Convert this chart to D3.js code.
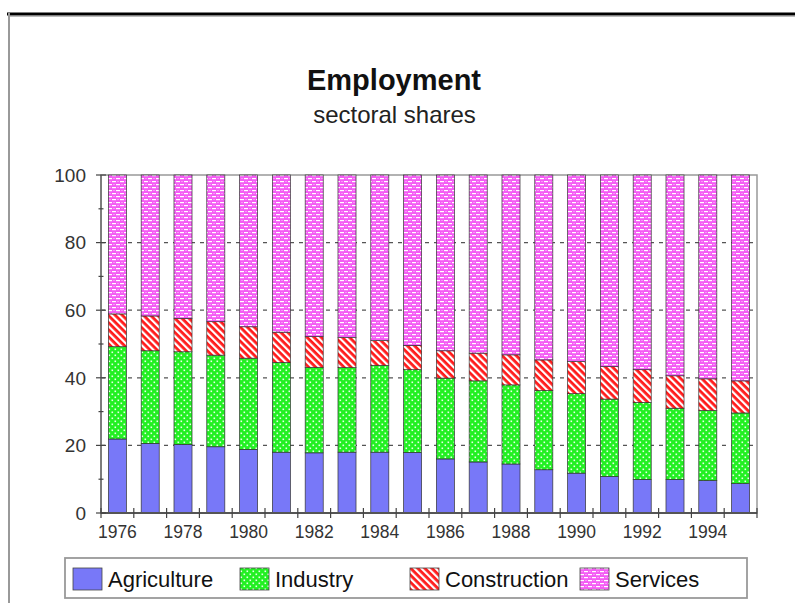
<!DOCTYPE html>
<html><head><meta charset="utf-8">
<script src="https://cdn.jsdelivr.net/npm/d3@7"></script>
<style>body{margin:0;background:#fff;}svg{display:block;font-family:"Liberation Sans",Arial,sans-serif;}</style>
</head><body>
<svg id="c" width="795" height="603"></svg>
<script>
const years = [1976,1977,1978,1979,1980,1981,1982,1983,1984,1985,1986,1987,1988,1989,1990,1991,1992,1993,1994,1995];
const agriculture  = [21.9,20.6,20.3,19.6,18.8,18.0,17.8,18.0,18.0,17.9,16.0,15.1,14.5,12.8,11.8,10.8,9.9,9.9,9.6,8.7];
const industry     = [27.3,27.4,27.4,27.1,27.0,26.5,25.3,25.0,25.7,24.5,23.9,24.0,23.4,23.4,23.5,22.9,22.8,21.1,20.7,20.9];
const construction = [9.7,10.3,9.9,9.9,9.3,9.0,9.1,8.9,7.3,7.2,8.1,8.2,8.9,9.1,9.5,9.6,9.7,9.6,9.4,9.5];
const services     = [41.1,41.7,42.4,43.4,44.9,46.5,47.8,48.1,49.0,50.4,52.0,52.7,53.2,54.7,55.2,56.7,57.6,59.4,60.3,60.9];
const seriesNames = ["Agriculture","Industry","Construction","Services"];
const yTicks = [0,20,40,60,80,100];
const xTickLabels = [1976,1978,1980,1982,1984,1986,1988,1990,1992,1994];

const svg = d3.select("#c");
const defs = svg.append("defs");

// patterns
const pInd = defs.append("pattern").attr("id","pInd").attr("patternUnits","userSpaceOnUse").attr("width",6).attr("height",6);
pInd.append("rect").attr("width",6).attr("height",6).attr("fill","#22f022");
pInd.append("rect").attr("x",0.5).attr("y",0.5).attr("width",1.6).attr("height",1.6).attr("fill","#e8ffe8");
pInd.append("rect").attr("x",3.5).attr("y",3.5).attr("width",1.6).attr("height",1.6).attr("fill","#e8ffe8");

const pCon = defs.append("pattern").attr("id","pCon").attr("patternUnits","userSpaceOnUse").attr("width",5).attr("height",5).attr("patternTransform","rotate(-45)");
pCon.append("rect").attr("width",5).attr("height",5).attr("fill","#ff1a1a");
pCon.append("rect").attr("x",0).attr("width",2.2).attr("height",5).attr("fill","#ffffff");

const pSer = defs.append("pattern").attr("id","pSer").attr("patternUnits","userSpaceOnUse").attr("width",8).attr("height",6);
pSer.append("rect").attr("width",8).attr("height",6).attr("fill","#f45cf4");
pSer.append("rect").attr("x",0).attr("y",1).attr("width",4).attr("height",1.2).attr("fill","#ffffff");
pSer.append("rect").attr("x",4).attr("y",4).attr("width",4).attr("height",1.2).attr("fill","#ffffff");
pSer.append("rect").attr("x",5.5).attr("y",1).attr("width",1).attr("height",1).attr("fill","#ffd0ff");
pSer.append("rect").attr("x",1.5).attr("y",4).attr("width",1).attr("height",1).attr("fill","#ffd0ff");

const fills = ["#7878f8","url(#pInd)","url(#pCon)","url(#pSer)"];

// outer frame
svg.append("line").attr("x1",7).attr("x2",795).attr("y1",14).attr("y2",14).attr("stroke","#000").attr("stroke-width",3);
svg.append("line").attr("x1",9).attr("x2",795).attr("y1",16.5).attr("y2",16.5).attr("stroke","#bbb").attr("stroke-width",1);
svg.append("line").attr("x1",9).attr("x2",9).attr("y1",13).attr("y2",603).attr("stroke","#999").attr("stroke-width",2);

// title
svg.append("text").attr("x",394).attr("y",90).attr("text-anchor","middle").attr("font-size",29).attr("font-weight","bold").attr("fill","#111").text("Employment");
svg.append("text").attr("x",394.5).attr("y",123).attr("text-anchor","middle").attr("font-size",24).attr("fill","#222").text("sectoral shares");

const L = 101, R = 757, T = 175, B = 513;
const x = d3.scaleBand().domain(years).range([L,R]).paddingInner(0.45).paddingOuter(0.225);
const y = d3.scaleLinear().domain([0,100]).range([B,T]);

// grid
svg.append("g").selectAll("line").data([20,40,60,80]).join("line")
  .attr("x1",L).attr("x2",R).attr("y1",d=>y(d)).attr("y2",d=>y(d))
  .attr("stroke","#555").attr("stroke-width",1.2).attr("stroke-dasharray","4,5");

// frame
svg.append("rect").attr("x",L).attr("y",T).attr("width",R-L).attr("height",B-T).attr("fill","none").attr("stroke","#999").attr("stroke-width",1.5);

// stack
const table = years.map((yr,i)=>({year:yr, Agriculture:agriculture[i], Industry:industry[i], Construction:construction[i], Services:services[i]}));
const stacked = d3.stack().keys(seriesNames)(table);
svg.append("g").selectAll("g").data(stacked).join("g")
  .attr("fill",(d,i)=>fills[i])
  .selectAll("rect").data(d=>d).join("rect")
  .attr("x",d=>x(d.data.year)).attr("width",x.bandwidth())
  .attr("y",d=>y(Math.min(d[1],100))).attr("height",d=>y(d[0])-y(Math.min(d[1],100)))
  .attr("stroke","#333").attr("stroke-width",0.7);

// axes lines
svg.append("line").attr("x1",L).attr("x2",L).attr("y1",T).attr("y2",B).attr("stroke","#777").attr("stroke-width",1.8);
svg.append("line").attr("x1",L).attr("x2",R).attr("y1",B).attr("y2",B).attr("stroke","#555").attr("stroke-width",1.8);

// y ticks
const yMinor = d3.range(10,100,20);
svg.append("g").selectAll("line").data(yTicks).join("line")
  .attr("x1",L-5).attr("x2",L+5).attr("y1",d=>y(d)).attr("y2",d=>y(d)).attr("stroke","#444").attr("stroke-width",1.2);
svg.append("g").selectAll("line").data(yMinor).join("line")
  .attr("x1",L-2.5).attr("x2",L+2.5).attr("y1",d=>y(d)).attr("y2",d=>y(d)).attr("stroke","#444").attr("stroke-width",1.2);
svg.append("g").selectAll("text").data(yTicks).join("text")
  .attr("x",86).attr("y",d=>y(d)).attr("dy","0.36em").attr("text-anchor","end")
  .attr("font-size",19).attr("fill","#333").text(d=>d);

// x ticks at band boundaries
const step = x.step();
const bounds = years.map(yr=>x(yr)+x.bandwidth()/2-step/2).concat([x(years[years.length-1])+x.bandwidth()/2+step/2]);
svg.append("g").selectAll("line").data(bounds).join("line")
  .attr("x1",d=>d).attr("x2",d=>d).attr("y1",B-5).attr("y2",B+5).attr("stroke","#444").attr("stroke-width",1.2);
svg.append("g").selectAll("text").data(xTickLabels).join("text")
  .attr("x",d=>x(d)+x.bandwidth()/2).attr("y",538).attr("text-anchor","middle")
  .attr("font-size",17.5).attr("fill","#333").text(d=>d);

// legend
svg.append("rect").attr("x",65).attr("y",558).attr("width",682).attr("height",40).attr("fill","#fff").attr("stroke","#999").attr("stroke-width",1.8);
const legX = [73,240,410,580];
const lg = svg.append("g").selectAll("g").data(seriesNames).join("g");
lg.append("rect").attr("x",(d,i)=>legX[i]).attr("y",568).attr("width",29).attr("height",22)
  .attr("fill",(d,i)=>fills[i]).attr("stroke","#444").attr("stroke-width",0.8);
lg.append("text").attr("x",(d,i)=>legX[i]+35).attr("y",587).attr("font-size",22).attr("fill","#111").text(d=>d);
</script>
</body></html>
